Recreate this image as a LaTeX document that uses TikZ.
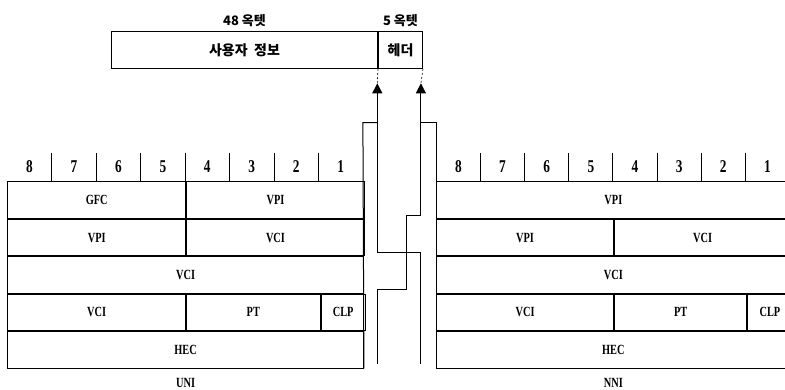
\documentclass[tikz,border=0pt]{standalone}
\usepackage{fontspec}
\setmainfont{Liberation Serif}
\newfontfamily\kfont{Noto Sans CJK KR}
\newfontfamily\cellfont{Liberation Serif}[FakeStretch=0.74]
\usetikzlibrary{arrows.meta,positioning}

\tikzset{
  field/.style={draw, anchor=north west, minimum height=36.4pt, inner sep=0pt,
    font=\cellfont\bfseries\fontsize{14}{14}\selectfont},
  bitnum/.style={font=\cellfont\bfseries\fontsize{18}{18}\selectfont},
  klabel/.style={font=\kfont\bfseries\fontsize{13}{13}\selectfont, inner sep=1pt},
  ktext/.style={font=\kfont\bfseries\fontsize{14}{14}\selectfont},
  tag/.style={font=\cellfont\bfseries\fontsize{14}{14}\selectfont, inner sep=0pt},
  route/.style={-{Triangle[width=10pt,length=10pt]}},
}

\begin{document}
\begin{tikzpicture}[x=1pt, y=-1pt, line width=1pt]
\useasboundingbox (0,0) rectangle (785,390);

% ATM cell: payload and header
\node[field, ktext, minimum width=266pt] (payload) at (111,31.5) {사용자\ \ 정보};
\node[field, ktext, minimum width=44pt] (header) at (payload.north east) {헤더};
\node[klabel, above=3pt of payload] (len48) {48 옥텟};
\node[klabel, above=3pt of header] (len5) {5 옥텟};

% UNI header
\foreach \n [count=\i] in {8,7,...,1}
  \node[bitnum] (ub\n) at ({7.3+(\i-0.5)*44.45},166.5) {\n};
\foreach \i in {1,...,7}
  \draw ({7.3+\i*44.45},153) -- ({7.3+\i*44.45},181.5);

\node[field, minimum width=177.8pt] (ugfc) at (7.3,181.5) {GFC};
\node[field, minimum width=177.8pt] (uvpia) at (ugfc.north east) {VPI};
\node[field, minimum width=177.8pt] (uvpib) at (ugfc.south west) {VPI};
\node[field, minimum width=177.8pt] (uvcia) at (uvpib.north east) {VCI};
\node[field, minimum width=355.6pt] (uvcib) at (uvpib.south west) {VCI};
\node[field, minimum width=177.8pt] (uvcic) at (uvcib.south west) {VCI};
\node[field, minimum width=133.4pt] (upt) at (uvcic.north east) {PT};
\node[field, minimum width=44.4pt] (uclp) at (upt.north east) {CLP};
\node[field, minimum width=355.6pt] (uhec) at (uvcic.south west) {HEC};
\node[tag, below=9pt of uhec] (uni) {UNI};

% NNI header
\foreach \n [count=\i] in {8,7,...,1}
  \node[bitnum] (nb\n) at ({436.3+(\i-0.5)*44.15},166.5) {\n};
\foreach \i in {1,...,7}
  \draw ({436.3+\i*44.15},153) -- ({436.3+\i*44.15},181.5);

\node[field, minimum width=353.2pt] (nvpia) at (436.3,181.5) {VPI};
\node[field, minimum width=176.6pt] (nvpib) at (nvpia.south west) {VPI};
\node[field, minimum width=176.6pt] (nvcia) at (nvpib.north east) {VCI};
\node[field, minimum width=353.2pt] (nvcib) at (nvpib.south west) {VCI};
\node[field, minimum width=176.6pt] (nvcic) at (nvcib.south west) {VCI};
\node[field, minimum width=132.45pt] (npt) at (nvcic.north east) {PT};
\node[field, minimum width=44.15pt] (nclp) at (npt.north east) {CLP};
\node[field, minimum width=353.2pt] (nhec) at (nvcic.south west) {HEC};
\node[tag, below=9pt of nhec] (nni) {NNI};

% channels from both headers up to the cell
\coordinate (ltip) at (377.3,83.3);
\coordinate (rtip) at (420.9,83.3);
\draw[dashed, line width=0.6pt, dash pattern=on 2pt off 2pt] (payload.south east) -- (ltip);
\draw[dashed, line width=0.6pt, dash pattern=on 2pt off 2pt] (header.south east) -- (rtip);

\draw (uhec.south east) -- (362.9,122.7) -- (377.3,122.7);
\draw (nhec.south west) -- (436.3,122.7) -- (420.9,122.7);

\draw[route] (420.9,363.5) -- (420.9,252.7) -- (377.3,252.7) -- (ltip);
\draw[route] (377.3,363.5) -- (377.3,289.3) -- (406.7,289.3) -- (406.7,216)
  -- (420.9,216) -- (rtip);
\end{tikzpicture}
\end{document}
